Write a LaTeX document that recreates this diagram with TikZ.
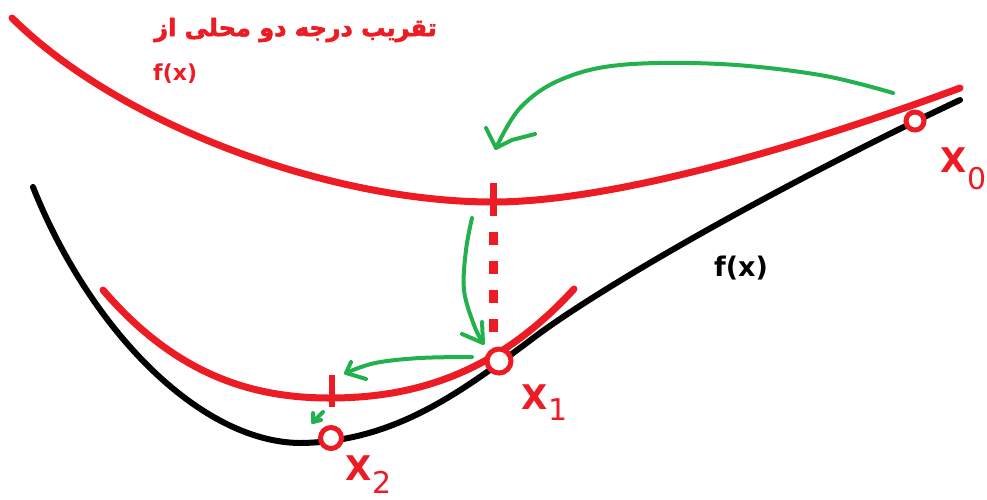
\documentclass[tikz,border=0pt]{standalone}
\usepackage{fontspec}
\setmainfont{DejaVu Sans}
\newfontfamily\arabicfont[Script=Arabic,FakeBold=2.5]{DejaVu Sans Bold}
\TeXXeTstate=1
\definecolor{myred}{RGB}{237,28,36}
\definecolor{mygreen}{RGB}{34,177,76}
\begin{document}
\begin{tikzpicture}[x=1pt,y=-1pt,
  redcurve/.style={myred,line width=7pt,line cap=round},
  blackcurve/.style={black,line width=6pt,line cap=round},
  greenarrow/.style={mygreen,line width=4pt,line cap=round,line join=round},
  ptcircle/.style={circle,draw=myred,fill=white,line width=5pt,inner sep=0pt},
  xlabel/.style={text=myred,font=\bfseries\fontsize{34}{34}\selectfont,inner sep=0pt,anchor=base west},
  xsub/.style={text=myred,font=\fontsize{30}{30}\selectfont,inner sep=0pt,anchor=base west}]
\useasboundingbox (0,0) rectangle (987,499);
% black f(x)
\coordinate (b0) at (33,187); \coordinate (b1) at (300,443);
\coordinate (b2) at (540,333); \coordinate (b3) at (960,100);
\draw[blackcurve] (b0) .. controls (90,330) and (200,442) .. (b1)
  .. controls (400,442) and (470,385) .. (b2)
  .. controls (620,275) and (800,175) .. (b3);
% big red approximation
\coordinate (r0) at (12,18); \coordinate (rm) at (493,202); \coordinate (r1) at (960,88);
\draw[redcurve] (r0) .. controls (120,125) and (330,202) .. (rm)
  .. controls (620,202) and (820,140) .. (r1);
% small red approximation
\coordinate (s0) at (103,290); \coordinate (sm) at (330,398); \coordinate (s1) at (574,289);
\draw[redcurve] (s0) .. controls (180,380) and (260,398) .. (sm)
  .. controls (420,398) and (500,370) .. (s1);
% ticks
\coordinate (t1a) at (493,183); \coordinate (t1b) at (493,216);
\draw[myred,line width=7pt] (t1a) -- (t1b);
\coordinate (t2a) at (332,375); \coordinate (t2b) at (332,407);
\draw[myred,line width=6pt] (t2a) -- (t2b);
% dotted line
\coordinate (d1) at (493,232); \coordinate (d2) at (493,340);
\draw[myred,line width=9pt,dash pattern=on 13pt off 16pt] (d1) -- (d2);
% points
\node[ptcircle,minimum size=18pt] (p0) at (915,121) {};
\node[ptcircle,minimum size=24pt] (p1) at (499,361) {};
\node[ptcircle,minimum size=21pt] (p2) at (331,438) {};
% labels
\node[xlabel] (x0) at (940,172) {X};
\node[xsub] (x0s) at (967,189) {0};
\node[xlabel] (x1) at (521,409) {X};
\node[xsub] (x1s) at (548,420) {1};
\node[xlabel] (x2) at (345,480) {X};
\node[xsub] (x2s) at (372,493) {2};
\node[font=\bfseries\fontsize{27}{27}\selectfont,inner sep=0pt] (fx) at (741,268) {f(x)};
\node[text=myred,font=\bfseries\fontsize{22}{22}\selectfont,inner sep=0pt,anchor=west] (fx2) at (153,74) {f(x)};
\node[text=myred,font=\arabicfont\fontsize{24}{28}\selectfont,inner sep=0pt,anchor=east] (title) at (437,30) {\beginR تقریب درجه دو محلی از\endR};
% green arrows
\coordinate (g1s) at (893,93); \coordinate (g1t) at (496,148);
\coordinate (g1a) at (486,128); \coordinate (g1b) at (535,134);
\draw[greenarrow] plot[smooth,tension=0.6] coordinates {(g1s) (820,75) (720,64) (620,65) (560,80) (520,108) (g1t)};
\draw[greenarrow] (g1a) -- (g1t) -- (512,140) -- (g1b);
\coordinate (g2s) at (472,218); \coordinate (g2t) at (483,343);
\coordinate (g2a) at (462,334); \coordinate (g2b) at (482,322);
\draw[greenarrow] plot[smooth,tension=0.6] coordinates {(g2s) (466,250) (464,290) (474,325) (g2t)};
\draw[greenarrow] (g2a) -- (g2t) -- (g2b);
\coordinate (g3s) at (472,357); \coordinate (g3t) at (346,373);
\coordinate (g3a) at (351,362); \coordinate (g3b) at (366,379);
\draw[greenarrow] plot[smooth,tension=0.6] coordinates {(g3s) (420,358) (375,363) (g3t)};
\draw[greenarrow] (g3a) -- (g3t) -- (g3b);
\coordinate (g4s) at (323,412); \coordinate (g4t) at (313,422);
\draw[greenarrow] (g4s) -- (g4t);
\draw[greenarrow] (313,413) -- (g4t) -- (321,420);
\end{tikzpicture}
\end{document}
